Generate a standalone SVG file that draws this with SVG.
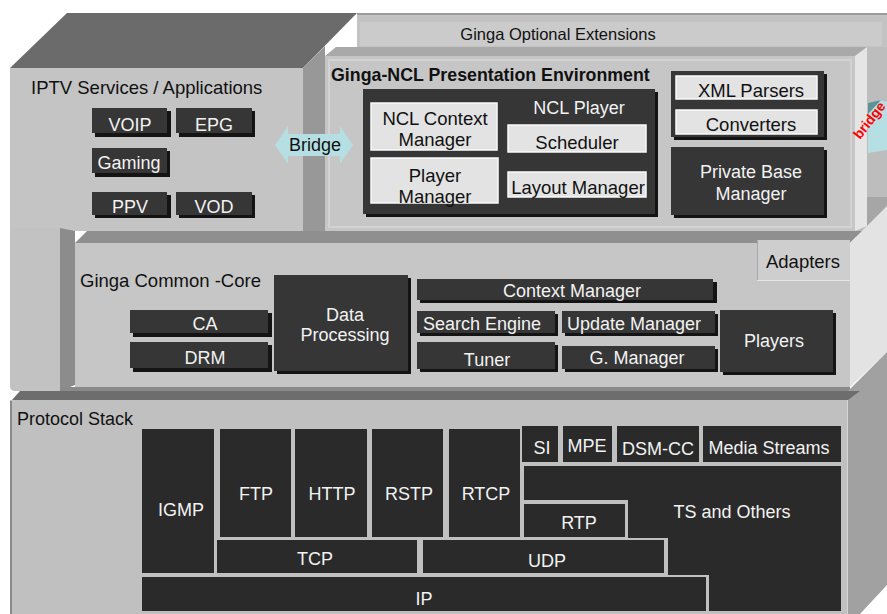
<svg xmlns="http://www.w3.org/2000/svg" width="887" height="614" viewBox="0 0 887 614">
<defs>
<style>
text{font-family:"Liberation Sans",Arial,Helvetica,sans-serif}
.w{fill:#f2f2f2;font-size:18px;text-anchor:middle}
.k{fill:#111;font-size:18.5px;text-anchor:middle}
.t{fill:#111;font-size:18.5px}
.dk{fill:#363636}
.sh{fill:#141414}
.lt{fill:#e3e3e3;stroke:#fafafa;stroke-width:1.5}
.pk{fill:#2a2a2a}
.pt{fill:#f2f2f2;font-size:18px;text-anchor:middle}
</style>
<clipPath id="edge"><rect x="868" y="47" width="19" height="150"/></clipPath>
</defs>
<rect width="887" height="614" fill="#ffffff"/>

<g id="layer-optional-extensions">
 <rect x="357" y="13" width="530" height="37" fill="#c3c3c3"/>
 <rect x="357" y="13" width="530" height="2" fill="#9c9c9c"/>
 <rect x="360" y="22" width="522" height="24" fill="#cbcbcb"/>
 <text x="558" y="40" text-anchor="middle" font-size="16.5" fill="#111">Ginga Optional Extensions</text>
 <rect x="855" y="47" width="32" height="190" fill="#bdbdbd"/>
 <rect x="867" y="197" width="20" height="40" fill="#a6a6a6"/>
</g>

<g id="layer-ginga-ncl">
 <polygon points="325,56 336,47 867,47 856,56" fill="#a9a9a9"/>
 <polygon points="855,56 867,47 867,226 855,231" fill="#e5e5e5"/>
 <rect x="325" y="56" width="530" height="175" fill="#c6c6c6"/>
 <rect x="329" y="60" width="522" height="167" fill="none" stroke="#d3d3d3" stroke-width="2"/>
 <text x="331" y="81" font-size="17.8" font-weight="bold" fill="#111">Ginga-NCL Presentation Environment</text>
</g>

<g id="layer-iptv">
 <polygon points="10,68 67,13 357,13 303,68" fill="#6b6b6b"/>
 <polygon points="303,68 325,46 325,231 303,231" fill="#989898"/>
 <rect x="10" y="68" width="293" height="163" fill="#c4c4c4"/>
 <text x="31" y="94" class="t" font-size="18.8">IPTV Services / Applications</text>
</g>

<g id="layer-common-core">
 <path d="M10,228 H60 V391 H15 Q10,391 10,386 Z" fill="#c2c2c2"/>
 <polygon points="60,228 75,231 75,385 60,391" fill="#8c8c8c"/>
 <polygon points="75,243 87,231 862,231 850,243" fill="#8f8f8f"/>
 <rect x="75" y="243" width="775" height="144" fill="#c6c6c6"/>
 <polygon points="850,243 887,206 887,352 850,387" fill="#e3e3e3"/>
 <rect x="60" y="387" width="790" height="4" fill="#8a8a8a"/>
 <text x="80" y="287" class="t" font-size="19">Ginga Common -Core</text>
</g>

<g id="adapters">
 <rect x="757" y="240" width="93" height="41" fill="#cecece"/>
 <line x1="757.5" y1="240" x2="757.5" y2="281" stroke="#a8a8a8" stroke-width="1"/>
 <line x1="757" y1="280.5" x2="850" y2="280.5" stroke="#e6e6e6" stroke-width="1"/>
 <text x="803" y="268" class="k" font-size="18">Adapters</text>
</g>

<g id="layer-protocol-stack">
 <polygon points="848,400 848,391 887,352 887,585 860,614 848,614" fill="#a1a1a1"/>
 <polygon points="12,400 20,391 860,391 848,400" fill="#6d6d6d"/>
 <rect x="10" y="400" width="838" height="214" fill="#c0c0c0"/>
 <line x1="11" y1="401" x2="11" y2="614" stroke="#8a8a8a" stroke-width="2"/>
 <line x1="847.5" y1="400" x2="847.5" y2="614" stroke="#d6d6d6" stroke-width="1"/>
 <text x="17" y="425" font-size="18" fill="#111">Protocol Stack</text>
</g>

<!-- IPTV nodes -->
<g id="voip"><rect class="sh" x="95" y="111" width="76" height="26"/><rect class="dk" x="92" y="108" width="75" height="25"/><text class="w" x="130" y="131" font-size="18.5">VOIP</text></g>
<g id="epg"><rect class="sh" x="179" y="111" width="76" height="26"/><rect class="dk" x="176" y="108" width="76" height="25"/><text class="w" x="214" y="131" font-size="18.5">EPG</text></g>
<g id="gaming"><rect class="sh" x="95" y="151" width="75" height="26"/><rect class="dk" x="92" y="148" width="75" height="25"/><text class="w" x="129" y="169">Gaming</text></g>
<g id="ppv"><rect class="sh" x="95" y="195" width="76" height="23"/><rect class="dk" x="92" y="192" width="75" height="23"/><text class="w" x="130" y="213" font-size="18.5">PPV</text></g>
<g id="vod"><rect class="sh" x="179" y="195" width="76" height="23"/><rect class="dk" x="176" y="192" width="76" height="23"/><text class="w" x="214" y="213" font-size="18.5">VOD</text></g>

<!-- NCL nodes -->
<g id="ncl-player">
 <rect class="sh" x="366" y="92" width="292" height="125"/>
 <rect class="dk" x="363" y="89" width="292" height="125"/>
 <text class="w" x="579" y="114" font-size="20">NCL Player</text>
</g>
<g id="ncl-context-manager"><rect class="lt" x="371" y="103" width="126" height="47"/><text class="k" x="435" y="125" font-size="19">NCL Context</text><text class="k" x="435" y="146">Manager</text></g>
<g id="player-manager"><rect class="lt" x="371" y="158" width="127" height="45"/><text class="k" x="435" y="182">Player</text><text class="k" x="435" y="203">Manager</text></g>
<g id="scheduler"><rect class="lt" x="508" y="125" width="138" height="27"/><text class="k" x="577" y="149">Scheduler</text></g>
<g id="layout-manager"><rect class="lt" x="508" y="172" width="138" height="25"/><text class="k" x="578" y="194" font-size="17.5">Layout Manager</text></g>
<g id="parsers-group">
 <rect class="sh" x="674" y="74" width="153" height="66"/>
 <rect class="dk" x="671" y="71" width="153" height="66"/>
</g>
<g id="xml-parsers"><rect class="lt" x="676" y="76" width="141" height="23"/><text class="k" x="751" y="97">XML Parsers</text></g>
<g id="converters"><rect class="lt" x="676" y="110" width="141" height="24"/><text class="k" x="751" y="131">Converters</text></g>
<g id="private-base-manager"><rect class="sh" x="674" y="150" width="153" height="68"/><rect class="dk" x="671" y="147" width="153" height="68"/><text class="w" x="751" y="178" font-size="18.5">Private Base</text><text class="w" x="751" y="200" font-size="18.5">Manager</text></g>

<!-- Common core nodes -->
<g id="ca"><rect class="sh" x="133" y="313" width="139" height="24"/><rect class="dk" x="130" y="310" width="138" height="23"/><text class="w" x="205" y="330">CA</text></g>
<g id="drm"><rect class="sh" x="133" y="345" width="139" height="27"/><rect class="dk" x="130" y="342" width="138" height="26"/><text class="w" x="205" y="364">DRM</text></g>
<g id="data-processing"><rect class="sh" x="277" y="278" width="134" height="96"/><rect class="dk" x="274" y="275" width="134" height="96"/><text class="w" x="345" y="321" font-size="18.5">Data</text><text class="w" x="345" y="341" font-size="18.5">Processing</text></g>
<g id="context-manager"><rect class="sh" x="420" y="282" width="297" height="21"/><rect class="dk" x="417" y="279" width="296" height="21"/><text class="w" x="572" y="297">Context Manager</text></g>
<g id="search-engine"><rect class="sh" x="420" y="314" width="138" height="22"/><rect class="dk" x="417" y="311" width="138" height="22"/><text class="w" x="482" y="330" font-size="17">Search Engine</text></g>
<g id="update-manager"><rect class="sh" x="565" y="314" width="153" height="22"/><rect class="dk" x="562" y="311" width="153" height="22"/><text class="w" x="634" y="330">Update Manager</text></g>
<g id="tuner"><rect class="sh" x="420" y="345" width="138" height="27"/><rect class="dk" x="417" y="342" width="138" height="27"/><text class="w" x="487" y="366">Tuner</text></g>
<g id="g-manager"><rect class="sh" x="565" y="349" width="153" height="23"/><rect class="dk" x="562" y="346" width="153" height="23"/><text class="w" x="637" y="364">G. Manager</text></g>
<g id="players"><rect class="sh" x="723" y="313" width="113" height="62"/><rect class="dk" x="720" y="310" width="113" height="62"/><text class="w" x="774" y="347">Players</text></g>

<!-- Protocol stack nodes -->
<g id="igmp"><rect class="pk" x="142" y="429" width="72" height="144"/><text class="pt" x="181" y="516">IGMP</text></g>
<g id="ftp"><rect class="pk" x="220" y="429" width="71" height="108"/><text class="pt" x="256" y="500">FTP</text></g>
<g id="http"><rect class="pk" x="295" y="429" width="72" height="108"/><text class="pt" x="332" y="500">HTTP</text></g>
<g id="rstp"><rect class="pk" x="372" y="429" width="71" height="108"/><text class="pt" x="409" y="500">RSTP</text></g>
<g id="rtcp"><rect class="pk" x="449" y="429" width="71" height="108"/><text class="pt" x="486" y="500">RTCP</text></g>
<g id="si"><rect class="pk" x="522" y="426" width="36" height="36"/><text class="pt" x="542" y="454">SI</text></g>
<g id="mpe"><rect class="pk" x="563" y="426" width="49" height="36"/><text class="pt" x="587" y="452">MPE</text></g>
<g id="dsm-cc"><rect class="pk" x="617" y="426" width="82" height="36"/><text class="pt" x="658" y="455">DSM-CC</text></g>
<g id="media-streams"><rect class="pk" x="703" y="426" width="138" height="36"/><text class="pt" x="769" y="454">Media Streams</text></g>
<g id="ts-and-others"><polygon class="pk" points="524,466 841,466 841,611 709,611 709,575 668,575 668,538 628,538 628,500 524,500"/><text class="pt" x="732" y="518">TS and  Others</text></g>
<g id="rtp"><rect class="pk" x="524" y="504" width="101" height="33"/><text class="pt" x="579" y="529">RTP</text></g>
<g id="tcp"><rect class="pk" x="217" y="540" width="200" height="33"/><text class="pt" x="315" y="565">TCP</text></g>
<g id="udp"><rect class="pk" x="423" y="540" width="241" height="33"/><text class="pt" x="547" y="567">UDP</text></g>
<g id="ip"><rect class="pk" x="142" y="577" width="564" height="34"/><text class="pt" x="424" y="605">IP</text></g>

<g id="connectors">
 <g id="bridge-left">
  <polygon points="275,145 288,126 288,134 340,134 340,126 353,145 340,164 340,156 288,156 288,164" fill="#b5dfe3"/>
  <text x="315" y="151" text-anchor="middle" font-size="18" fill="#111">Bridge</text>
 </g>
 <g id="bridge-right">
  <g clip-path="url(#edge)">
   <polygon points="868,104 880,100 887,102 887,150 868,153" fill="#b5dfe3"/>
   <polygon points="868,103 881,100 868,114" fill="#5f9198"/>
  </g>
  <text x="0" y="0" transform="translate(860,140) rotate(-52)" font-size="14" font-weight="bold" fill="#ff0000">bridge</text>
 </g>
</g>
</svg>
